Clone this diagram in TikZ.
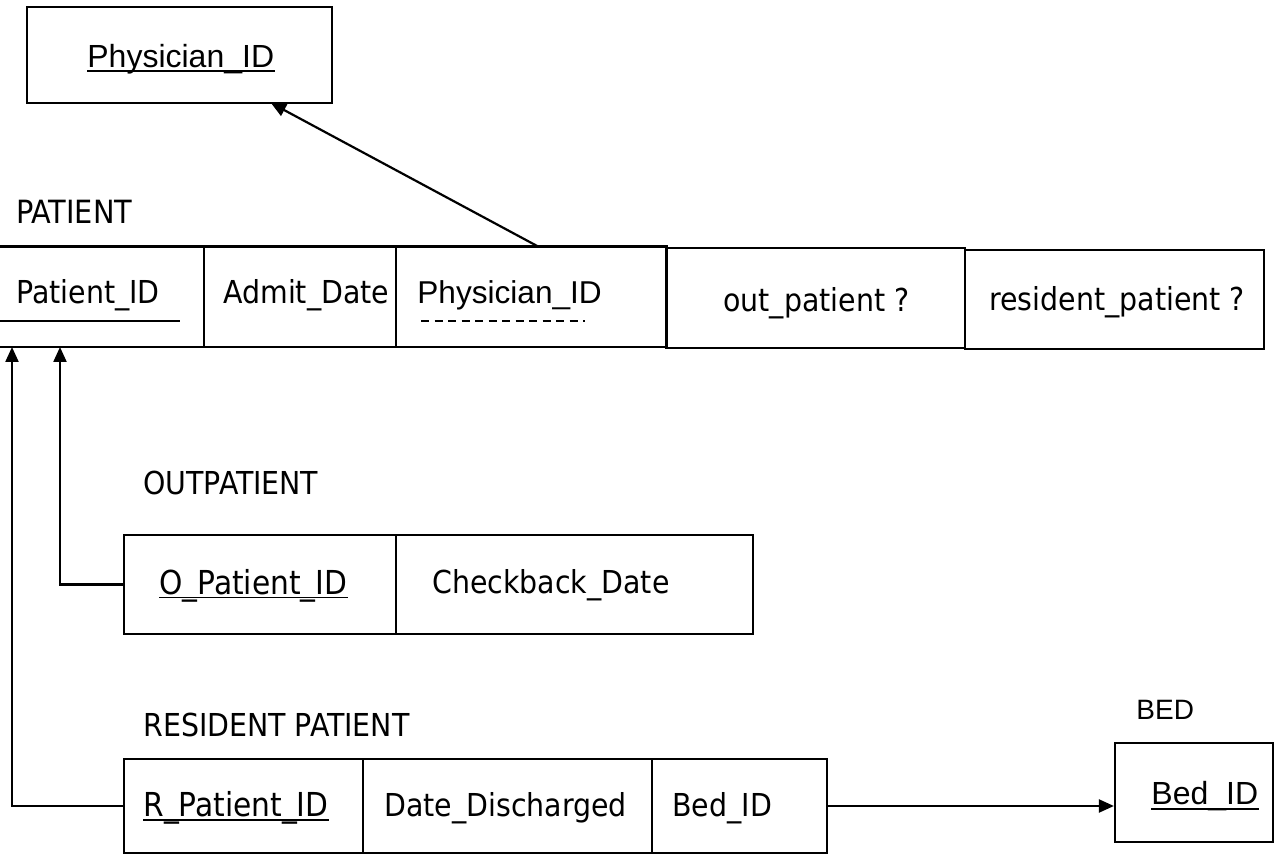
\documentclass[tikz,border=0pt]{standalone}
\usepackage{fontspec}
\setmainfont{DejaVu Sans Condensed}
\newfontfamily\arialfont{Liberation Sans}
\usetikzlibrary{fit,arrows.meta}

\tikzset{
  box/.style={draw, line width=1.1pt, inner sep=0pt},
  cell/.style={inner sep=0pt},
  txt/.style={anchor=base west, inner sep=0pt, font=\fontsize{15.8}{18}\selectfont},
  keytxt/.style={anchor=base west, inner sep=0pt, font=\fontsize{16.5}{18}\selectfont},
  atxt/.style={anchor=base west, inner sep=0pt, font=\arialfont\fontsize{15.8}{18}\selectfont},
  rule/.style={line width=1.1pt},
  keyline/.style={line width=0.9pt},
  link/.style={line width=1.1pt, -{Triangle[length=7.5pt,width=6.5pt]}}
}

\begin{document}
\begin{tikzpicture}[x=0.5pt,y=-0.5pt]
\useasboundingbox (0,0) rectangle (1276,855);

% ---- PHYSICIAN ----
\node[box, fit={(27,7) (332,103)}] (physbox) {};
\node[atxt, font=\arialfont\fontsize{16}{18}\selectfont] (physkey) at (87,68) {Physician\_ID};
\draw[keyline] ([yshift=-1.6pt]physkey.base west) -- ([yshift=-1.6pt]physkey.base east);

% ---- PATIENT ----
\node[txt, font=\fontsize{16}{18}\selectfont] (patlbl) at (16,224) {PATIENT};
\node[cell, fit={(0,247) (204,347)}] (c1) {};
\node[cell, fit={(204,247) (396,347)}] (c2) {};
\node[cell, fit={(396,247) (666,347)}] (c3) {};
\node[box, fit={(666,248) (965,348)}] (c4) {};
\node[box, fit={(965,250) (1264,349)}] (c5) {};
\draw[rule] (c1.north west) -- (c3.north east) -- (c3.south east) -- (c1.south west);
\draw[rule] (c2.north west) -- (c2.south west);
\draw[rule] (c3.north west) -- (c3.south west);

\node[txt] (pid) at (16,304) {Patient\_ID};
\coordinate (pidend) at (180,321);
\draw[rule] (c1.west |- pidend) -- (pidend);
\node[txt] (adm) at (223,304) {Admit\_Date};
\node[atxt] (pphys) at (417,304) {Physician\_ID};
\draw[keyline, dash pattern=on 4pt off 2.75pt] (421,321) -- (585,321);
\node[txt] (outq) at (723,312) {out\_patient ?};
\node[txt] (resq) at (989,311) {resident\_patient ?};

% foreign key to PHYSICIAN
\coordinate (fkfrom) at (539,247);
\coordinate (fkto) at (271,103);
\draw[link] (fkfrom) -- (fkto);

% ---- OUTPATIENT ----
\node[txt] (outlbl) at (143,495) {OUTPATIENT};
\node[box, fit={(124,535) (396,634)}] (o1) {};
\node[box, fit={(396,535) (753,634)}] (o2) {};
\node[keytxt] (oid) at (159,595) {O\_Patient\_ID};
\draw[keyline] ([yshift=-1.3pt]oid.base west) -- ([yshift=-1.3pt]oid.base east);
\node[txt] (chk) at (432,594) {Checkback\_Date};

% ---- RESIDENT PATIENT ----
\node[txt] (reslbl) at (143,737) {RESIDENT PATIENT};
\node[box, fit={(124,759) (363,853)}] (r1) {};
\node[box, fit={(363,759) (652,853)}] (r2) {};
\node[box, fit={(652,759) (827,853)}] (r3) {};
\node[keytxt] (rid) at (143,817) {R\_Patient\_ID};
\draw[keyline] ([yshift=-1.4pt]rid.base west) -- ([yshift=-1.4pt]rid.base east);
\node[txt] (dis) at (384,817) {Date\_Discharged};
\node[txt] (rbed) at (672,817) {Bed\_ID};

% subtype links to PATIENT
\coordinate (pin1) at (12,347);
\coordinate (pin2) at (60,347);
\draw[link] (o1.west) -| (pin2);
\draw[link] (r1.west) -| (pin1);

% ---- BED ----
\node[atxt, font=\arialfont\fontsize{14}{16}\selectfont] (bedlbl) at (1136,720) {BED};
\node[box, fit={(1115,743) (1273,842)}] (bedbox) {};
\node[atxt, font=\arialfont\fontsize{16}{18}\selectfont] (bedkey) at (1151,805) {Bed\_ID};
\draw[keyline] ([yshift=-2.2pt]bedkey.base west) -- ([yshift=-2.2pt]bedkey.base east);
\draw[link] (r3.east) -- (r3.east -| bedbox.west);
\end{tikzpicture}
\end{document}
